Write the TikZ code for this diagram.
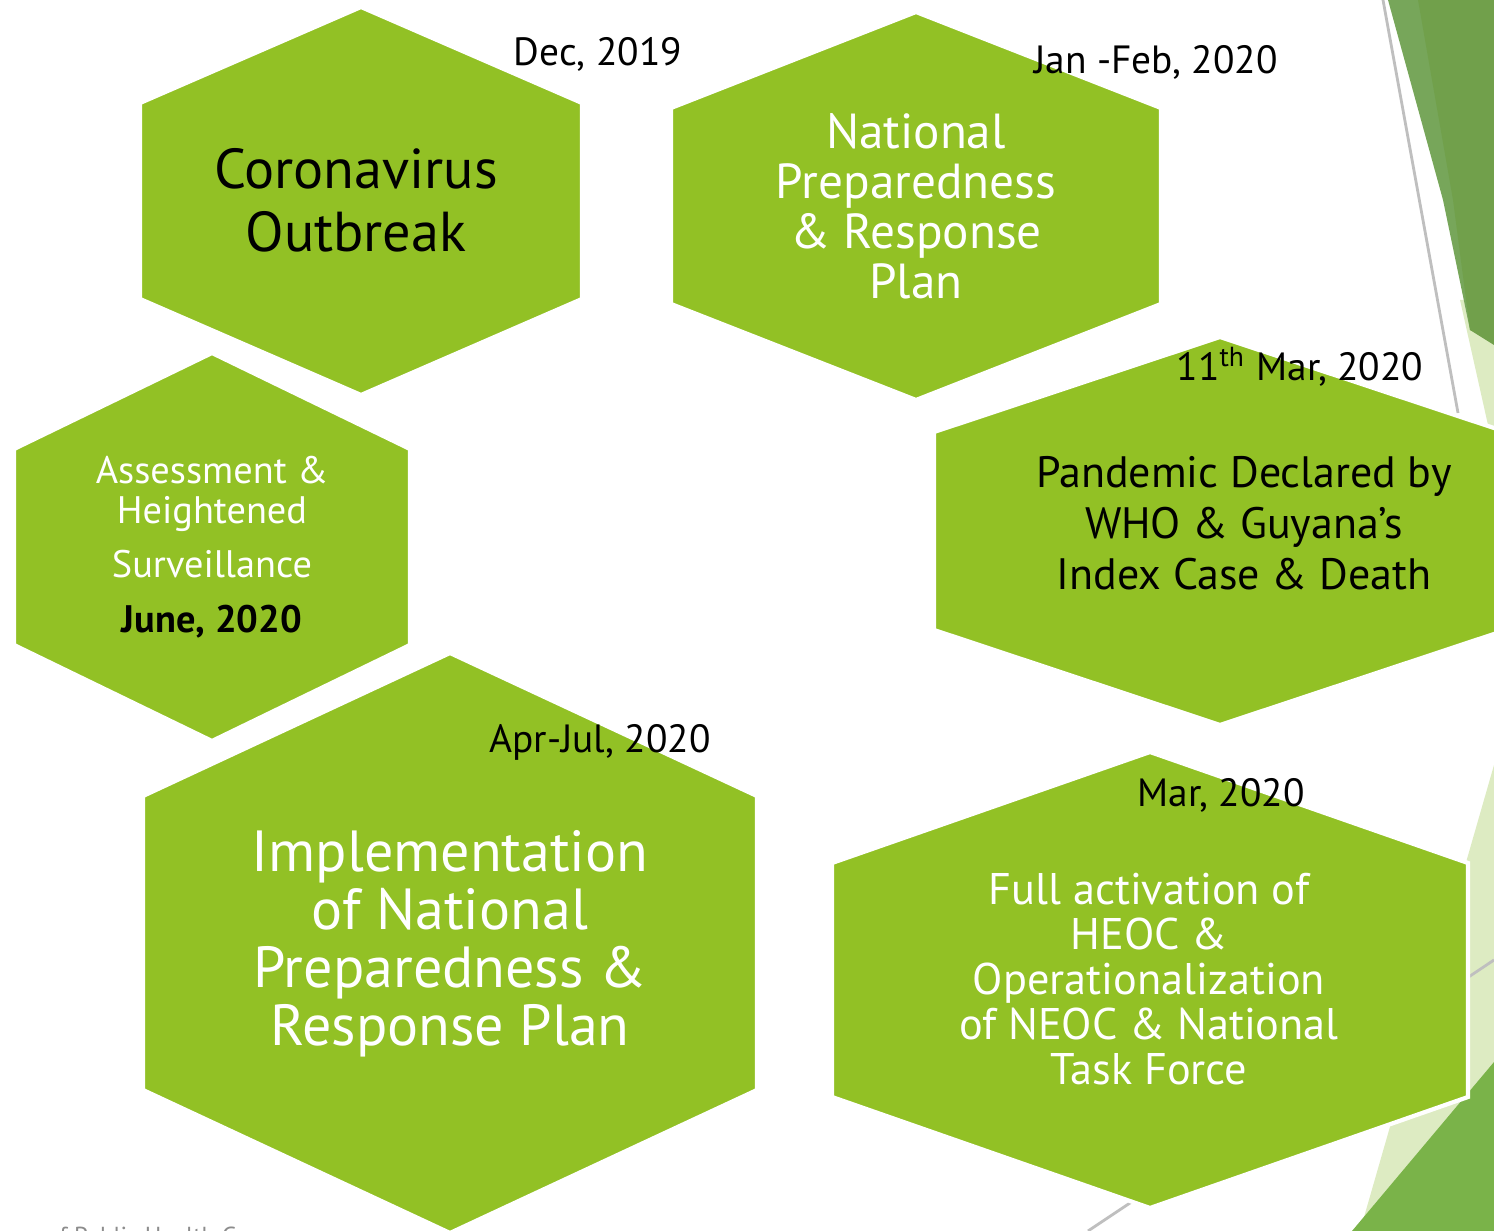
\documentclass[tikz,border=0pt]{standalone}
\usepackage{fontspec}
\setmainfont{PT Sans}
\definecolor{hexgreen}{HTML}{92C125}
\definecolor{leafmid}{HTML}{77A65A}
\definecolor{leafdark}{HTML}{71A04B}
\definecolor{leaflight}{HTML}{DDEBC2}
\definecolor{leafgrass}{HTML}{7AB349}
\newcommand{\fs}[2]{\fontsize{#1}{#2}\selectfont}
% hexagon: name, cx, cy, half width, half height, half side
\newcommand{\hexcell}[6]{%
  \coordinate (#1) at (#2,#3);
  \path[hexcell] (#2,#3-#5) -- (#2+#4,#3-#6) -- (#2+#4,#3+#6) -- (#2,#3+#5)
    -- (#2-#4,#3+#6) -- (#2-#4,#3-#6) -- cycle;}

\begin{document}
\begin{tikzpicture}[x=0.01cm,y=-0.01cm,
  hexcell/.style={fill=hexgreen,draw=white,line width=1.2pt,line join=miter},
  cellblack/.style={align=center,text=black,inner sep=0pt},
  cellwhite/.style={align=center,text=white,inner sep=0pt},
  datelabel/.style={text=black,inner sep=0pt,font=\fs{11.2}{13}},
  faint/.style={draw=black!25,line width=0.8pt}]
  \useasboundingbox (0,0) rectangle (1494,1231);
  \clip (0,0) rectangle (1494,1231);

  % slide decoration, right edge
  \fill[leaflight] (1460,300) -- (1494,300) -- (1494,434) -- (1490,434) -- cycle;
  \fill[leafmid] (1388,0) -- (1494,0) -- (1494,340) -- (1470,330) -- (1443,200) -- cycle;
  \fill[leafdark] (1418,0) -- (1494,0) -- (1494,345) -- (1470,330) -- (1453,200) -- cycle;
  \draw[faint] (1383,0) -- (1458,413);
  \fill[leaflight] (1494,765) -- (1494,1231) -- (1360,1231) -- cycle;
  \draw[faint] (1494,960) -- (1088,1231);
  \fill[leafgrass] (1494,1062) -- (1494,1231) -- (1352,1231) -- cycle;

  % footer, mostly cut off
  \node[anchor=base west,text=black!45,inner sep=0pt,font=\fs{7}{8}] (footer) at (46,1244) {of Public Health Guyana};

  % hexagons
  \hexcell{outbreak}{361}{201}{221}{194}{98}
  \hexcell{natplan}{916}{206}{245}{194}{98}
  \hexcell{assess}{212}{547}{198}{194}{98}
  \hexcell{pandemic}{1220}{531}{286}{194}{99}
  \hexcell{implement}{450}{943}{307}{290}{147}
  \hexcell{heoc}{1150}{980}{318}{228}{117}

  % cell texts
  \node[cellblack,font=\fs{16}{17.9}] (outbreaktxt) at (356,200) {Coronavirus\\Outbreak};
  \node[cellwhite,font=\fs{14}{14.2}] (natplantxt) at (916,206) {National\\Preparedness\\\& Response\\Plan};
  \node[cellwhite,font=\fs{10.9}{11.4}] (assesstxt) at (212,547)
    {Assessment \&\\Heightened\\[4pt]Surveillance\\[4pt]\textcolor{black}{\bfseries June, 2020}};
  \node[cellblack,font=\fs{12.5}{14.5}] (pandemictxt) at (1244,523) {Pandemic Declared by\\WHO \& Guyana’s\\Index Case \& Death};
  \node[cellwhite,font=\fs{16.5}{16.5}] (implementtxt) at (450,944) {Implementation\\of National\\Preparedness \&\\Response Plan};
  \node[cellwhite,font=\fs{12.6}{12.8}] (heoctxt) at (1149,979) {Full activation of\\HEOC \&\\Operationalization\\of NEOC \& National\\Task Force};

  % dates
  \node[datelabel] (outbreakdate) at (598,54) {Dec, 2019};
  \node[datelabel] (natplandate) at (1156,62) {Jan -Feb, 2020};
  \node[datelabel] (pandemicdate) at (1300,367) {11\textsuperscript{th} Mar, 2020};
  \node[datelabel] (implementdate) at (600,742) {Apr-Jul, 2020};
  \node[datelabel] (heocdate) at (1221,795) {Mar, 2020};
\end{tikzpicture}
\end{document}
